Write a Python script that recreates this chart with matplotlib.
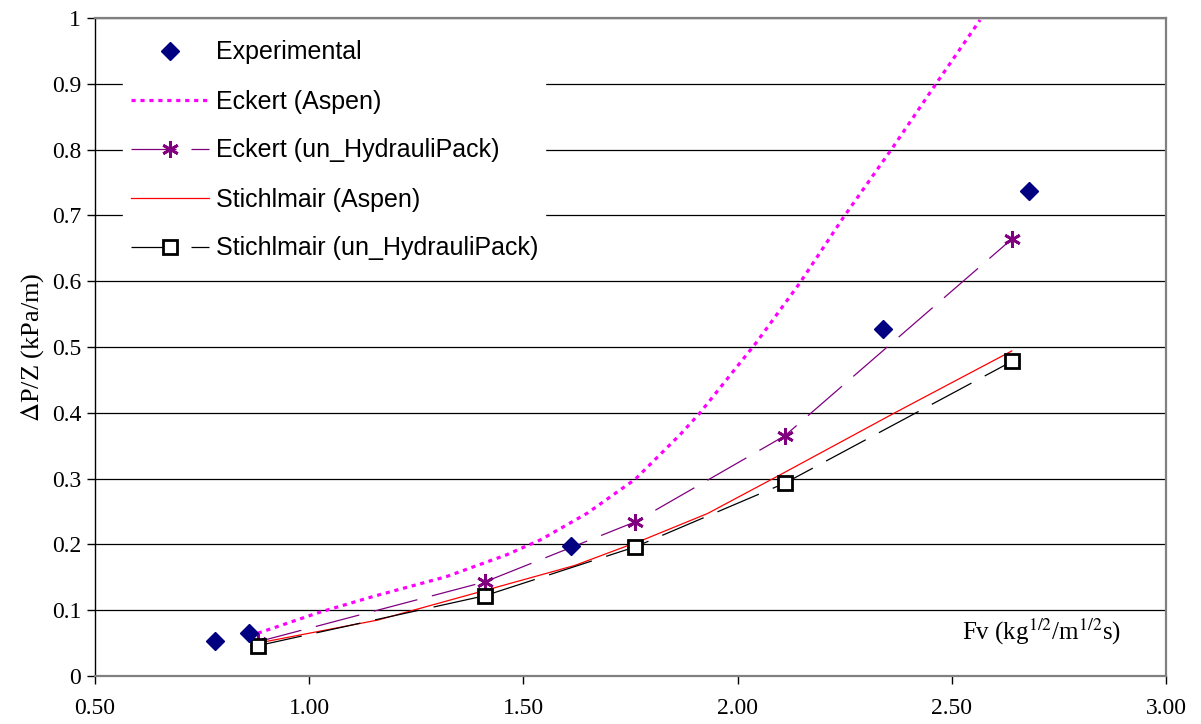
import matplotlib
matplotlib.use('Agg')
import matplotlib.pyplot as plt

# experimental pressure drop
exp_fv = [0.78, 0.86, 1.61, 2.34, 2.68]
exp_dp = [0.053, 0.066, 0.198, 0.527, 0.737]

# un_HydrauliPack results (same Fv for both models)
hp_fv = [0.88, 1.41, 1.76, 2.11, 2.64]
eckert_hp = [0.052, 0.143, 0.234, 0.365, 0.664]
stich_hp = [0.046, 0.122, 0.196, 0.293, 0.478]

# Aspen curves
eckert_aspen_fv = [0.88, 1.025, 1.15, 1.32, 1.46, 1.54, 1.648, 1.761, 1.866, 1.911,
                   2.044, 2.146, 2.247, 2.363, 2.461, 2.566]
eckert_aspen_dp = [0.065, 0.097, 0.121, 0.151, 0.184, 0.207, 0.247, 0.299, 0.367, 0.399,
                   0.507, 0.598, 0.697, 0.804, 0.898, 0.997]
stich_aspen_fv = [0.88, 1.16, 1.41, 1.62, 1.78, 1.93, 2.10, 2.367, 2.64]
stich_aspen_dp = [0.050, 0.085, 0.130, 0.168, 0.207, 0.247, 0.306, 0.400, 0.494]

xticks = [0.5, 1.0, 1.5, 2.0, 2.5, 3.0]
yticks = [0, 0.1, 0.2, 0.3, 0.4, 0.5, 0.6, 0.7, 0.8, 0.9, 1.0]

plt.rcParams['mathtext.fontset'] = 'stix'
serif = 'Liberation Serif'
sans = 'Liberation Sans'

fig = plt.figure(figsize=(12.01, 7.24), dpi=100)
ax = fig.add_axes([95 / 1201, 1 - 676 / 724, 1071 / 1201, 658 / 724])

ax.plot(exp_fv, exp_dp, linestyle='none', marker='D', color='#000080',
        markersize=9, label='Experimental', zorder=5)
ax.plot(eckert_aspen_fv, eckert_aspen_dp, color='#FF00FF', lw=2.3,
        linestyle=(0, (1.3, 1.5)), dash_capstyle='butt', label='Eckert (Aspen)')
ax.plot(hp_fv, eckert_hp, color='#800080', lw=0.9, dashes=(36, 12),
        marker=(6, 2, 0), markersize=12, markeredgewidth=2,
        label='Eckert (un_HydrauliPack)')
ax.plot(stich_aspen_fv, stich_aspen_dp, color='#FF0000', lw=0.9,
        label='Stichlmair (Aspen)')
ax.plot(hp_fv, stich_hp, color='black', lw=0.9, dashes=(36, 12),
        marker='s', markersize=10, markerfacecolor='white',
        markeredgecolor='black', markeredgewidth=2,
        label='Stichlmair (un_HydrauliPack)', zorder=4)

ax.set_xlim(0.5, 3.0)
ax.set_ylim(0, 1.0)
ax.set_xticks(xticks)
ax.set_xticklabels(['%.2f' % v for v in xticks], family=serif, fontsize=17)
ax.set_yticks(yticks)
ax.set_yticklabels(['%g' % v for v in yticks], family=serif, fontsize=17)
ax.tick_params(axis='x', direction='out', length=6, width=1, pad=10)
ax.tick_params(axis='y', direction='out', length=6, width=1, pad=4)
ax.yaxis.grid(True, color='black', lw=0.9)
ax.set_axisbelow(True)

for side in ['top', 'right', 'bottom']:
    ax.spines[side].set_color('#808080')
    ax.spines[side].set_linewidth(1.6)
ax.spines['left'].set_color('black')
ax.spines['left'].set_linewidth(1.0)

ax.set_ylabel(r'$\Delta$P/Z (kPa/m)', family=serif, fontsize=19, labelpad=4)
ax.text(0.884, 0.067, r'Fv (kg$^{1/2}$/m$^{1/2}$s)', transform=ax.transAxes,
        ha='center', va='center', family=serif, fontsize=18)

leg = ax.legend(loc='upper left', bbox_to_anchor=(123 / 1201, 1 - 33 / 724),
                bbox_transform=fig.transFigure, prop={'family': sans, 'size': 18},
                frameon=True, fancybox=False, edgecolor='white', framealpha=1,
                handlelength=3.15, handletextpad=0.25, labelspacing=1.0,
                borderpad=0.3, borderaxespad=0)

fig.savefig('out.png', dpi=100, facecolor='white')
